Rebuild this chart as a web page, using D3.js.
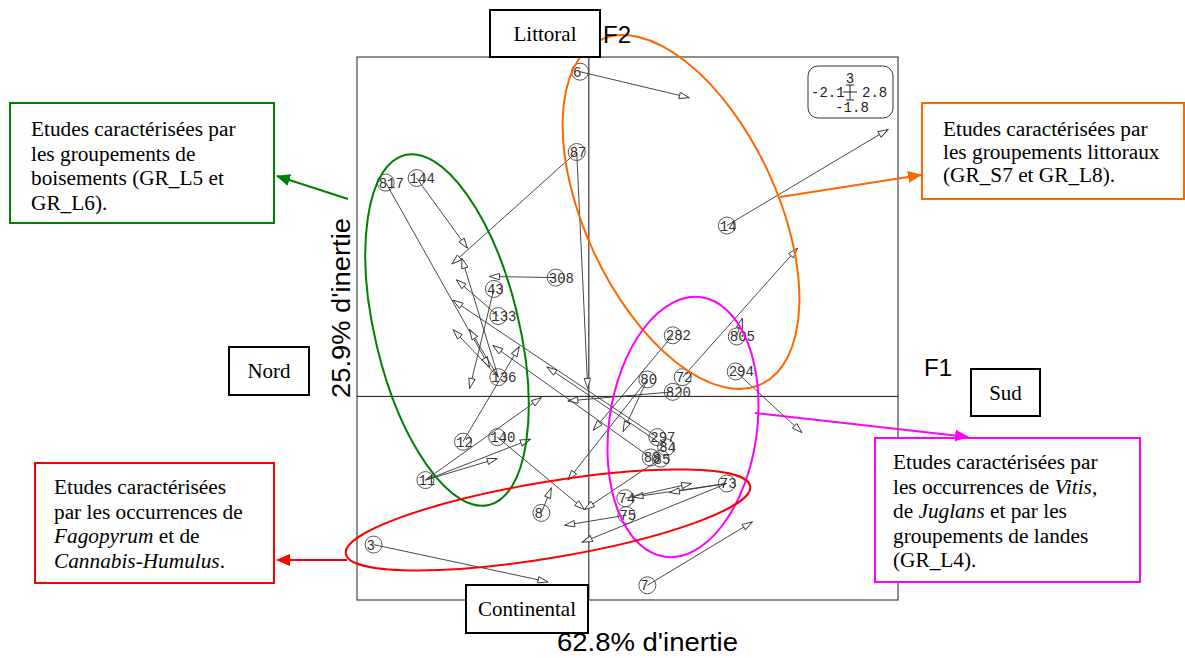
<!DOCTYPE html>
<html><head><meta charset="utf-8">
<script src="https://cdn.jsdelivr.net/npm/d3@7"></script>
<style>body{margin:0;background:#fff}svg{display:block}</style>
</head><body>
<script>
// ---- data (co-inertia / procrustes: labelled start point -> arrow end) ----
const labels = ["6","87","87","817","144","308","43","133","136","136","136","12","11","11","11","140","3","8","14","282","80","80","820","72","805","294","297","84","88","85","73","73","73","74","75","7"];
const startX = [-0.08,-0.11,-0.11,-1.84,-1.56,-0.30,-0.86,-0.82,-0.82,-0.82,-0.82,-1.14,-1.48,-1.48,-1.48,-0.83,-1.95,-0.43,1.25,0.76,0.53,0.53,0.76,0.85,1.34,1.33,0.62,0.70,0.56,0.65,1.25,1.25,1.25,0.33,0.34,0.53];
const startY = [2.87,2.16,2.16,1.89,1.93,1.05,0.95,0.71,0.17,0.17,0.17,-0.40,-0.74,-0.74,-0.74,-0.36,-1.31,-1.03,1.51,0.54,0.15,0.15,0.04,0.17,0.53,0.22,-0.36,-0.45,-0.54,-0.55,-0.77,-0.77,-0.77,-0.90,-1.05,-1.67];
const endX = [0.91,-1.24,-0.01,-0.90,-1.10,-0.90,-1.08,-1.20,-1.15,-1.08,-1.23,-0.63,-0.43,-0.53,-0.83,-0.04,-0.37,-0.34,2.71,0.04,0.31,-0.19,-0.19,1.89,1.39,1.93,-1.23,-0.38,-0.87,-0.04,0.40,-0.06,0.73,0.93,-0.22,1.48];
const endY = [2.64,1.17,0.07,0.26,1.31,1.06,0.07,1.03,1.22,0.59,0.59,0.44,-0.01,-0.38,-0.55,-1.00,-1.64,-0.81,2.36,-0.30,-0.31,-0.74,-0.04,1.31,0.69,-0.32,0.85,0.26,0.45,-1.00,-0.89,-1.29,-0.85,-0.77,-1.14,-1.11];
const xLimits = [-2.1, 2.8];
const yLimits = [-1.8, 3.0];
const axisTitles = ["62.8% d'inertie", "25.9% d'inertie"];

const W = 1185, H = 658;
const svg = d3.select("body").append("svg").attr("width", W).attr("height", H);
const x = d3.scaleLinear().domain(xLimits).range([357, 898]);
const y = d3.scaleLinear().domain(yLimits).range([600, 57]);

const defs = svg.append("defs");
defs.append("marker").attr("id","open").attr("viewBox","-1 -4 12 8")
  .attr("markerUnits","userSpaceOnUse").attr("markerWidth",12).attr("markerHeight",8)
  .attr("refX",10).attr("refY",0).attr("orient","auto")
  .append("path").attr("d","M0,-3.2L10,0L0,3.2Z").attr("fill","#fff").attr("stroke","#333").attr("stroke-width",0.9);
function filledMarker(id, col){
  defs.append("marker").attr("id",id).attr("viewBox","0 -6 14 12")
    .attr("markerUnits","userSpaceOnUse").attr("markerWidth",14).attr("markerHeight",12)
    .attr("refX",13).attr("refY",0).attr("orient","auto")
    .append("path").attr("d","M0,-6L14,0L0,6Z").attr("fill",col);
}
filledMarker("fg","#008000"); filledMarker("fo","#ff6600"); filledMarker("fr","#ff0000"); filledMarker("fm","#ff00ff");

// plot frame and axes
svg.append("rect").attr("x",357).attr("y",57).attr("width",541).attr("height",543)
  .attr("fill","none").attr("stroke","#444").attr("stroke-width",1.2);
svg.append("line").attr("x1",357).attr("x2",898).attr("y1",y(0)).attr("y2",y(0)).attr("stroke","#111");
svg.append("line").attr("x1",x(0)).attr("x2",x(0)).attr("y1",57).attr("y2",600).attr("stroke","#111");

const idx = d3.range(labels.length);
// unique start points (duplicates share one circle/label)
const uniq = idx.filter(i => idx.findIndex(j => labels[j]===labels[i] && startX[j]===startX[i] && startY[j]===startY[i]) === i);
// arrows
svg.append("g").selectAll("line").data(idx).join("line")
  .attr("x1", i=>x(startX[i])).attr("y1", i=>y(startY[i]))
  .attr("x2", i=>x(endX[i])).attr("y2", i=>y(endY[i]))
  .attr("stroke","#333").attr("stroke-width",0.9).attr("marker-end","url(#open)");
// circles
svg.append("g").selectAll("circle").data(uniq).join("circle")
  .attr("cx", i=>x(startX[i])).attr("cy", i=>y(startY[i])).attr("r",8.5)
  .attr("fill","none").attr("stroke","#444").attr("stroke-width",0.9);
svg.append("g").selectAll("text").data(uniq).join("text")
  .attr("x", i=>x(startX[i]) - 7).attr("y", i=>y(startY[i]) + 5)
  .attr("font-family","Liberation Mono, DejaVu Sans Mono, monospace").attr("font-size",14)
  .attr("fill","#333").text(i=>labels[i]);

// scale legend box
const lg = svg.append("g").attr("font-family","Liberation Mono, monospace").attr("font-size",14).attr("fill","#222");
lg.append("rect").attr("x",808).attr("y",66).attr("width",85).attr("height",52).attr("rx",10)
  .attr("fill","#fff").attr("stroke","#333");
lg.append("text").attr("x",850).attr("y",83).attr("text-anchor","middle").text(yLimits[1]);
lg.append("text").attr("x",811).attr("y",97).text(xLimits[0]);
lg.append("text").attr("x",862).attr("y",97).text(xLimits[1]);
lg.append("text").attr("x",852).attr("y",112).attr("text-anchor","middle").text(yLimits[0]);
lg.append("path").attr("d","M850,85V100M846,85H854M846,100H854M843,92H857").attr("stroke","#222").attr("fill","none");

// ellipses
function ell(cx, cy, rx, ry, rot, col){
  svg.append("ellipse").attr("cx",0).attr("cy",0).attr("rx",rx).attr("ry",ry)
    .attr("transform",`translate(${cx},${cy}) rotate(${rot})`)
    .attr("fill","none").attr("stroke",col).attr("stroke-width",2);
}
ell(447, 330, 72, 180, -13.5, "#008000");
ell(681, 212, 96, 190, -25, "#ff6600");
ell(683, 427, 74, 131, 8, "#ff00ff");
ell(548, 520, 205, 38, -9.5, "#ff0000");

// callout boxes
const serif = "Liberation Serif, Times New Roman, serif";
function box(x0,y0,w,h,col,sw){
  svg.append("rect").attr("x",x0).attr("y",y0).attr("width",w).attr("height",h)
    .attr("fill","#fff").attr("stroke",col).attr("stroke-width",sw);
}
function lines(x0, y0, dy, arr){
  const t = svg.append("text").attr("font-family",serif).attr("font-size",21.3).attr("fill","#000");
  arr.forEach((ln,k)=>{
    const tl = t.append("tspan").attr("x",x0).attr("y",y0+k*dy);
    ln.forEach(seg=>{
      const s = tl.append("tspan").text(seg[0]);
      if(seg[1]) s.attr("font-style","italic");
    });
  });
}
box(10,103,264,120,"#008000",2);
lines(31,136,24.5,[[["Etudes caractérisées par"]],[["les groupements de"]],[["boisements (GR_L5 et"]],[["GR_L6)."]]]);
box(922,103,262,96,"#ff6600",2);
lines(943,136,23,[[["Etudes caractérisées par"]],[["les groupements littoraux"]],[["(GR_S7 et GR_L8)."]]]);
box(35,463,239,120,"#ff0000",2);
lines(54,494,24.5,[[["Etudes caractérisées"]],[["par les occurrences de"]],[["Fagopyrum",1],[" et de"]],[["Cannabis-Humulus",1],["."]]]);
box(875,438,265,144,"#ff00ff",2);
lines(893,469,24.5,[[["Etudes caractérisées par"]],[["les occurrences de "],["Vitis,",1]],[["de "],["Juglans",1],[" et par les"]],[["groupements de landes"]],[["(GR_L4)."]]]);

// callout arrows
function carrow(x1,y1,x2,y2,col,m){
  svg.append("line").attr("x1",x1).attr("y1",y1).attr("x2",x2).attr("y2",y2)
    .attr("stroke",col).attr("stroke-width",2).attr("marker-end",`url(#${m})`);
}
carrow(348,199,277,176,"#008000","fg");
carrow(780,197,921,175,"#ff6600","fo");
carrow(347,560,277,560,"#ff0000","fr");
carrow(755,413,968,437,"#ff00ff","fm");

// direction boxes
function dirBox(x0,y0,w,h,txt){
  box(x0,y0,w,h,"#000",2);
  svg.append("text").attr("x",x0+w/2).attr("y",y0+h/2+7).attr("text-anchor","middle")
    .attr("font-family",serif).attr("font-size",21).text(txt);
}
dirBox(490,10,110,47,"Littoral");
dirBox(229,347,80,48,"Nord");
dirBox(971,369,69,47,"Sud");
dirBox(466,585,122,48,"Continental");

const sans = "Liberation Sans, Arial, sans-serif";
svg.append("text").attr("x",603).attr("y",43).attr("font-family",sans).attr("font-size",24).text("F2");
svg.append("text").attr("x",924).attr("y",376).attr("font-family",sans).attr("font-size",24).text("F1");
svg.append("text").attr("x",557).attr("y",651).attr("font-family",sans).attr("font-size",25)
  .attr("textLength",181).attr("lengthAdjust","spacingAndGlyphs").text(axisTitles[0]);
svg.append("text").attr("transform","translate(350,398) rotate(-90)")
  .attr("font-family",sans).attr("font-size",25)
  .attr("textLength",180).attr("lengthAdjust","spacingAndGlyphs").text(axisTitles[1]);
</script>
</body></html>
